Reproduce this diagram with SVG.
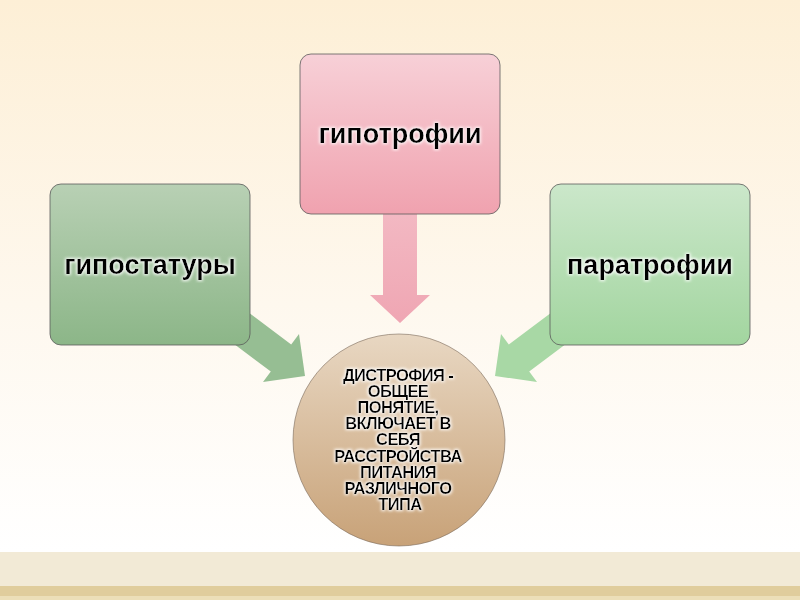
<svg xmlns="http://www.w3.org/2000/svg" width="800" height="600" viewBox="0 0 800 600">
<defs>
<linearGradient id="bg" x1="0" y1="0" x2="0" y2="1">
<stop offset="0" stop-color="#fdefd6"/>
<stop offset="0.55" stop-color="#fef8ee"/>
<stop offset="1" stop-color="#ffffff"/>
</linearGradient>
<linearGradient id="gL" x1="0" y1="0" x2="0" y2="1">
<stop offset="0" stop-color="#b8d0b4"/>
<stop offset="1" stop-color="#8cb688"/>
</linearGradient>
<linearGradient id="gR" x1="0" y1="0" x2="0" y2="1">
<stop offset="0" stop-color="#cbe7ca"/>
<stop offset="1" stop-color="#a2d59f"/>
</linearGradient>
<linearGradient id="gP" x1="0" y1="0" x2="0" y2="1">
<stop offset="0" stop-color="#f7d0d7"/>
<stop offset="1" stop-color="#f0a2af"/>
</linearGradient>
<linearGradient id="gC" x1="0" y1="0" x2="0" y2="1">
<stop offset="0" stop-color="#e8d7c2"/>
<stop offset="1" stop-color="#c8a278"/>
</linearGradient>
<linearGradient id="aP" x1="0" y1="0" x2="0" y2="1">
<stop offset="0" stop-color="#f3b9c3"/>
<stop offset="1" stop-color="#efa6b3"/>
</linearGradient>
<filter id="glow" x="-10%" y="-10%" width="120%" height="120%">
<feMorphology in="SourceAlpha" operator="dilate" radius="1.2" result="d"/>
<feGaussianBlur in="d" stdDeviation="1.8" result="b"/>
<feFlood flood-color="#ffffff" flood-opacity="0.9"/>
<feComposite in2="b" operator="in" result="w"/>
<feMerge><feMergeNode in="w"/><feMergeNode in="SourceGraphic"/></feMerge>
</filter>
<style>
.box{stroke:#5a5a5a;stroke-width:0.8}
.lbl{font-family:"Liberation Sans",Arial,sans-serif;font-weight:bold;font-size:27px;fill:#000;text-anchor:middle}
.ct{font-family:"Liberation Sans",Arial,sans-serif;font-weight:bold;font-size:16.5px;fill:#000;text-anchor:middle;letter-spacing:-0.6px}
</style>
</defs>
<rect x="0" y="0" width="800" height="552" fill="url(#bg)"/>
<rect x="0" y="552" width="800" height="34" fill="#f2ead6"/>
<rect x="0" y="586" width="800" height="10" fill="#e0cd9c"/>
<rect x="0" y="596" width="800" height="4" fill="#ecdfb8"/>
<g id="connectors">
<polygon points="214.8,329.6 235.2,302.4 291.2,344.4 299,334 305,376 263,382 270.8,371.6" fill="#96be93"/>
<polygon points="585.2,329.6 564.8,302.4 508.8,344.4 501,334 495,376 537,382 529.2,371.6" fill="#a8d8a5"/>
<polygon points="383,210 417,210 417,295 430,295 400,323 370,295 383,295" fill="url(#aP)"/>
</g>
<g id="node-center">
<circle cx="399" cy="440" r="106" fill="url(#gC)" stroke="#7a6a5a" stroke-width="0.6"/>
<text class="ct" filter="url(#glow)">
<tspan x="400" y="380.5">ДИСТРОФИЯ -</tspan>
<tspan x="400" y="396.7">ОБЩЕЕ</tspan>
<tspan x="400" y="412.9">ПОНЯТИЕ,</tspan>
<tspan x="400" y="429.1">ВКЛЮЧАЕТ В</tspan>
<tspan x="400" y="445.3">СЕБЯ</tspan>
<tspan x="400" y="461.5">РАССТРОЙСТВА</tspan>
<tspan x="400" y="477.7">ПИТАНИЯ</tspan>
<tspan x="400" y="493.9">РАЗЛИЧНОГО</tspan>
<tspan x="400" y="510.1">ТИПА</tspan>
</text>
</g>
<g id="node-left">
<rect class="box" x="50" y="184" width="200" height="161" rx="11" fill="url(#gL)"/>
<text class="lbl" x="150" y="274" filter="url(#glow)">гипостатуры</text>
</g>
<g id="node-top">
<rect class="box" x="300" y="54" width="200" height="160" rx="11" fill="url(#gP)"/>
<text class="lbl" x="400" y="143" filter="url(#glow)">гипотрофии</text>
</g>
<g id="node-right">
<rect class="box" x="550" y="184" width="200" height="161" rx="11" fill="url(#gR)"/>
<text class="lbl" x="650" y="274" filter="url(#glow)">паратрофии</text>
</g>
</svg>
